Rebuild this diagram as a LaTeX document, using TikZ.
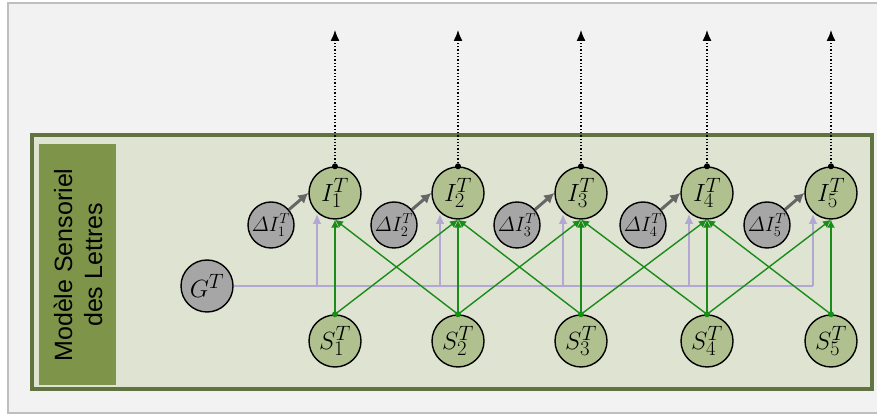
\documentclass[tikz,border=0pt]{standalone}
\usepackage{fontspec}
\newfontfamily\arialfont{Liberation Sans}
\usetikzlibrary{arrows.meta}

\definecolor{hgrau}{HTML}{F2F2F2}
\definecolor{rgrau}{HTML}{BFBFBF}
\definecolor{boxgruen}{HTML}{DFE3D1}
\definecolor{randgruen}{HTML}{617340}
\definecolor{titelgruen}{HTML}{7E9448}
\definecolor{knotgruen}{HTML}{B0C08E}
\definecolor{knotgrau}{HTML}{A6A6A6}
\definecolor{pfeilgruen}{HTML}{1A8C1A}
\definecolor{lila}{HTML}{B3A7D3}
\definecolor{dgrau}{HTML}{666666}

\tikzset{
  knotI/.style={circle,draw=black,line width=1.4pt,fill=knotgruen,minimum size=52pt,inner sep=0pt,font=\Huge},
  knotD/.style={circle,draw=black,line width=1.4pt,fill=knotgrau,minimum size=46pt,inner sep=0pt,font=\huge},
  knotG/.style={circle,draw=black,line width=1.4pt,fill=knotgrau,minimum size=52pt,inner sep=0pt,font=\Huge},
  gruenpfeil/.style={draw=pfeilgruen,line width=1.4pt,-{Latex[length=8pt,width=8pt]}},
  lilapfeil/.style={draw=lila,line width=1.8pt,-{Latex[length=10pt,width=9pt]}},
  graupfeil/.style={draw=dgrau,line width=3pt,-{Latex[length=10pt,width=11pt]}},
  punktpfeil/.style={draw=black,line width=1.3pt,dotted,-{Latex[length=11pt,width=9pt]}}
}

\begin{document}
\begin{tikzpicture}[x=1pt,y=1pt]
   \useasboundingbox (0,0) rectangle (877,417);

   %% Rahmen
   \draw[fill=hgrau,draw=rgrau,line width=2pt] (8,4) rectangle (884,414);
   \draw[fill=boxgruen,draw=randgruen,line width=4pt] (32,28) rectangle (872,282);
   \fill[titelgruen] (39,32) rectangle (116,273);
   \node[rotate=90,align=center,font={\arialfont\fontsize{25}{30}\selectfont}] (titel) at (78,152) {Modèle Sensoriel\\des Lettres};

   %% Knoten
   \node[knotI] (I1) at (335,224) {$I_1^T$};
   \node[knotI] (I2) at (458,224) {$I_2^T$};
   \node[knotI] (I3) at (581,224) {$I_3^T$};
   \node[knotI] (I4) at (707,224) {$I_4^T$};
   \node[knotI] (I5) at (831,224) {$I_5^T$};

   \node[knotI] (S1) at (335,76) {$S_1^T$};
   \node[knotI] (S2) at (458,76) {$S_2^T$};
   \node[knotI] (S3) at (581,76) {$S_3^T$};
   \node[knotI] (S4) at (707,76) {$S_4^T$};
   \node[knotI] (S5) at (831,76) {$S_5^T$};

   \node[knotD] (dI1) at (271,192) {$\mathnormal{\Delta}I_1^T$};
   \node[knotD] (dI2) at (394,192) {$\mathnormal{\Delta}I_2^T$};
   \node[knotD] (dI3) at (517,192) {$\mathnormal{\Delta}I_3^T$};
   \node[knotD] (dI4) at (643,192) {$\mathnormal{\Delta}I_4^T$};
   \node[knotD] (dI5) at (767,192) {$\mathnormal{\Delta}I_5^T$};

   \node[knotG] (G) at (207,131) {$G^T$};

   %% Ausgaben
   \coordinate (o1) at (335,387);
   \coordinate (o2) at (458,387);
   \coordinate (o3) at (581,387);
   \coordinate (o4) at (707,387);
   \coordinate (o5) at (831,387);
   \draw[punktpfeil] (I1.north) -- (o1);
   \draw[punktpfeil] (I2.north) -- (o2);
   \draw[punktpfeil] (I3.north) -- (o3);
   \draw[punktpfeil] (I4.north) -- (o4);
   \draw[punktpfeil] (I5.north) -- (o5);
   \fill (I1.north) circle (3pt);
   \fill (I2.north) circle (3pt);
   \fill (I3.north) circle (3pt);
   \fill (I4.north) circle (3pt);
   \fill (I5.north) circle (3pt);

   %% G
   \coordinate (gb1) at (317,131);
   \coordinate (gb2) at (440,131);
   \coordinate (gb3) at (563,131);
   \coordinate (gb4) at (689,131);
   \coordinate (gb5) at (813,131);
   \coordinate (gt1) at (317,203);
   \coordinate (gt2) at (440,203);
   \coordinate (gt3) at (563,203);
   \coordinate (gt4) at (689,203);
   \coordinate (gt5) at (813,203);
   \draw[draw=lila,line width=1.8pt] (G) -- (gb5);
   \draw[lilapfeil] (gb1) -- (gt1);
   \draw[lilapfeil] (gb2) -- (gt2);
   \draw[lilapfeil] (gb3) -- (gt3);
   \draw[lilapfeil] (gb4) -- (gt4);
   \draw[lilapfeil] (gb5) -- (gt5);

   %% Delta I
   \draw[graupfeil] (dI1) -- (I1.west);
   \draw[graupfeil] (dI2) -- (I2.west);
   \draw[graupfeil] (dI3) -- (I3.west);
   \draw[graupfeil] (dI4) -- (I4.west);
   \draw[graupfeil] (dI5) -- (I5.west);

   %% S nach I
   \draw[gruenpfeil] (S1.north) -- (I1.south);
   \draw[gruenpfeil] (S1.north) -- (I2.south);
   \draw[gruenpfeil] (S2.north) -- (I1.south);
   \draw[gruenpfeil] (S2.north) -- (I2.south);
   \draw[gruenpfeil] (S2.north) -- (I3.south);
   \draw[gruenpfeil] (S3.north) -- (I2.south);
   \draw[gruenpfeil] (S3.north) -- (I3.south);
   \draw[gruenpfeil] (S3.north) -- (I4.south);
   \draw[gruenpfeil] (S4.north) -- (I3.south);
   \draw[gruenpfeil] (S4.north) -- (I4.south);
   \draw[gruenpfeil] (S4.north) -- (I5.south);
   \draw[gruenpfeil] (S5.north) -- (I4.south);
   \draw[gruenpfeil] (S5.north) -- (I5.south);
   \fill[pfeilgruen] (S1.north) circle (3pt);
   \fill[pfeilgruen] (S2.north) circle (3pt);
   \fill[pfeilgruen] (S3.north) circle (3pt);
   \fill[pfeilgruen] (S4.north) circle (3pt);
   \fill[pfeilgruen] (S5.north) circle (3pt);
  \end{tikzpicture}
\end{document}
